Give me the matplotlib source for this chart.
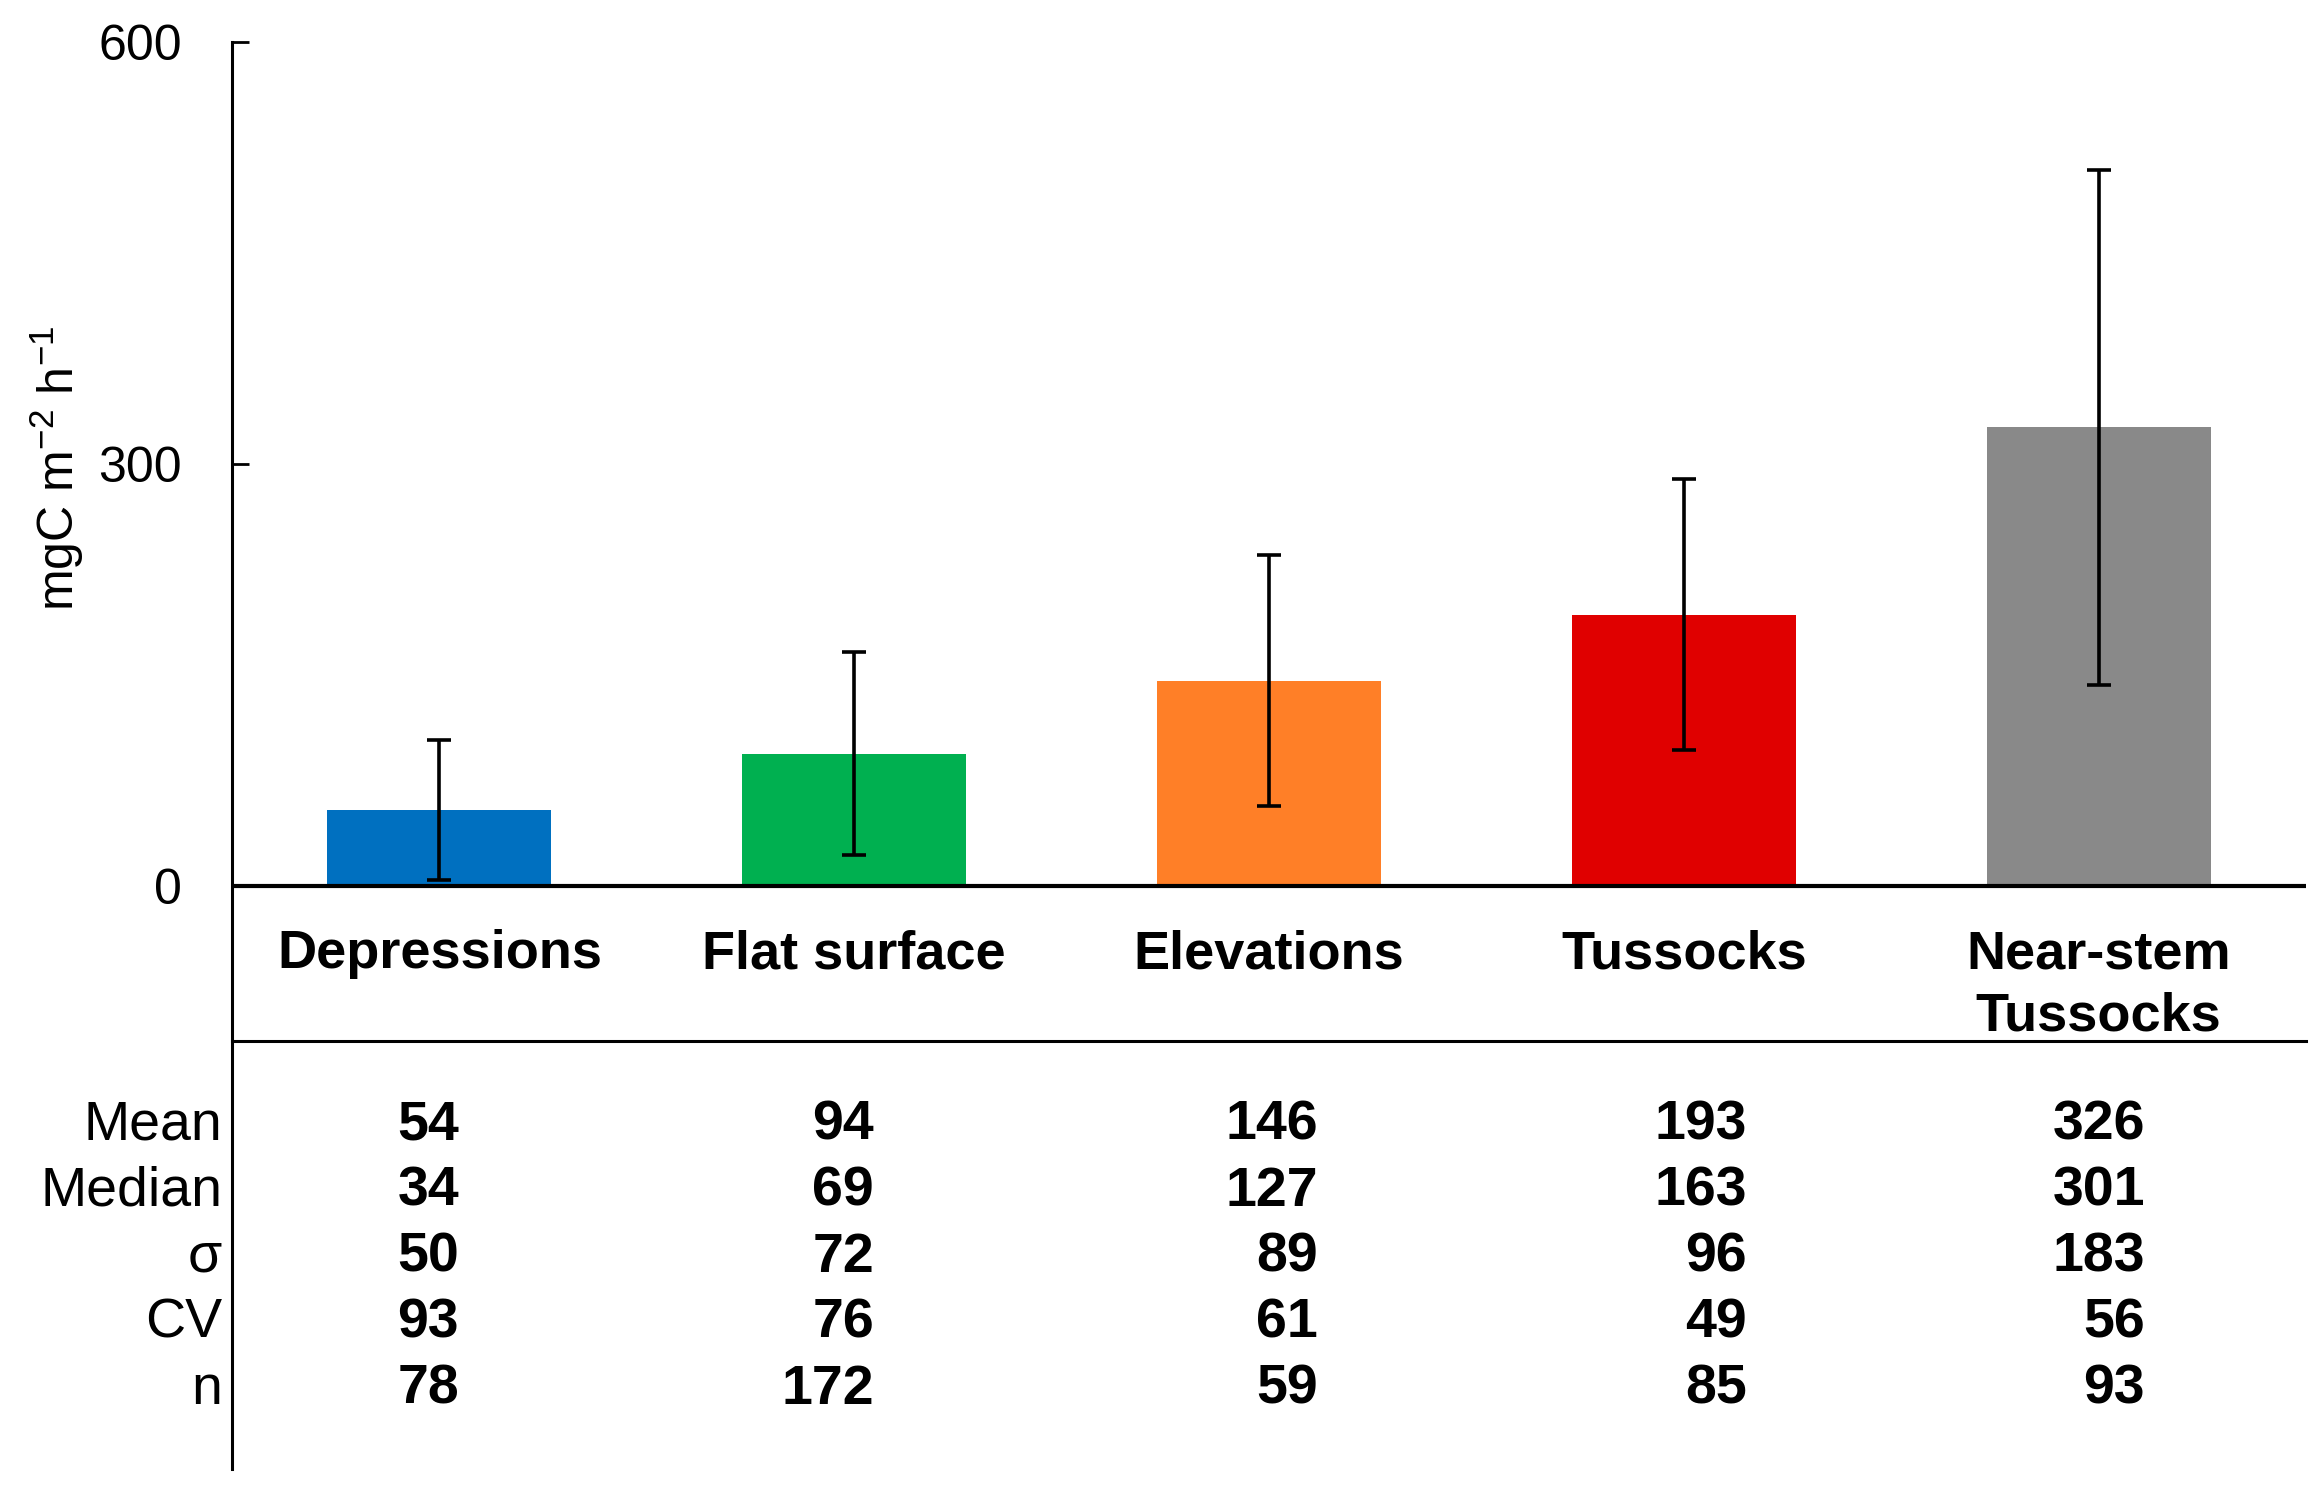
import matplotlib
matplotlib.use("Agg")
import matplotlib.pyplot as plt
import numpy as np

plt.rcParams['font.family'] = ['Liberation Sans', 'DejaVu Sans']
plt.rcParams['mathtext.fontset'] = 'custom'
plt.rcParams['mathtext.rm'] = 'Liberation Sans'
plt.rcParams['mathtext.it'] = 'Liberation Sans:italic'
plt.rcParams['mathtext.bf'] = 'Liberation Sans:bold'

categories = ["Depressions", "Flat surface", "Elevations", "Tussocks", "Near-stem\nTussocks"]
means = [54, 94, 146, 193, 326]
medians = [34, 69, 127, 163, 301]
sigmas = [50, 72, 89, 96, 183]
cvs = [93, 76, 61, 49, 56]
ns = [78, 172, 59, 85, 93]
colors = ["#0070C0", "#00B050", "#FF7F27", "#E00000", "#898989"]
row_labels = ["Mean", "Median", "σ", "CV", "n"]
yticks = [0, 300, 600]

W, H = 2323, 1486
fig = plt.figure(figsize=(W / 100, H / 100), dpi=100)

# axes pixel layout
ax_left, ax_right = 232, 2306
ax_top, ax_bot = 42, 1469
zero_px = 886
ppu = (zero_px - ax_top) / 600.0
ymin = -(ax_bot - zero_px) / ppu

ax = fig.add_axes([ax_left / W, 1 - ax_bot / H, (ax_right - ax_left) / W, (ax_bot - ax_top) / H])
x = np.arange(len(categories))
ax.bar(x, means, width=0.54, color=colors, zorder=2)
ax.errorbar(x, means, yerr=sigmas, fmt='none', ecolor='black', elinewidth=2.6,
            capsize=8.6, capthick=2.6, zorder=3)

ax.set_xlim(-0.5, len(categories) - 0.5)
ax.set_ylim(ymin, 600)
ax.set_yticks(yticks)
ax.set_yticklabels([str(t) for t in yticks], fontsize=36)
ax.tick_params(axis='y', direction='in', length=12, width=2.0, pad=36)
ax.set_xticks([])
for s in ['top', 'right', 'bottom']:
    ax.spines[s].set_visible(False)
ax.spines['left'].set_linewidth(2.2)
ax.axhline(0, color='black', lw=3.0, zorder=4)

# y label
fig.text(57 / W, 1 - 468 / H, r'mgC m$^{-2}$ h$^{-1}$', rotation=90, fontsize=36,
         ha='center', va='center')

def ypx(px):
    return (zero_px - px) / ppu

# category labels
for i, c in enumerate(categories):
    ax.text(i, ypx(929), c, ha='center', va='top', fontsize=39,
            fontweight='bold', linespacing=1.32)

# separator line
ax.plot([-0.5, len(categories) - 0.5], [ypx(1041), ypx(1041)], color='black', lw=2.2,
        clip_on=False)

# table
rows = [means, medians, sigmas, cvs, ns]
row_base = [1140, 1206, 1272, 1338, 1404]
col_right = [0.047, 1.048, 2.118, 3.152, 4.112]
for r, (lab, vals) in enumerate(zip(row_labels, rows)):
    yb = ypx(row_base[r])
    ax.text(-0.524, yb, lab, ha='right', va='baseline', fontsize=40)
    for j, v in enumerate(vals):
        ax.text(col_right[j], yb, str(v), ha='right', va='baseline', fontsize=40,
                fontweight='bold')

fig.savefig("out.png", dpi=100)
